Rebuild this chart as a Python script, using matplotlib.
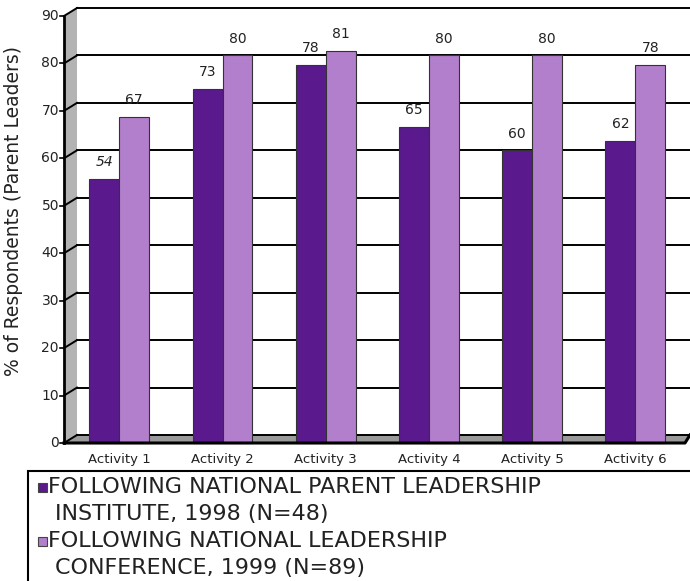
import matplotlib
matplotlib.use("Agg")
import matplotlib.pyplot as plt
from matplotlib.patches import Polygon, Rectangle
from matplotlib.lines import Line2D
from matplotlib.transforms import IdentityTransform
import numpy as np

# data
activities = ["Activity 1", "Activity 2", "Activity 3", "Activity 4", "Activity 5", "Activity 6"]
institute_1998 = [54, 73, 78, 65, 60, 62]
conference_1999 = [67, 80, 81, 80, 80, 78]
series_labels = ["FOLLOWING NATIONAL PARENT LEADERSHIP\nINSTITUTE, 1998 (N=48)",
                 "FOLLOWING NATIONAL LEADERSHIP\nCONFERENCE, 1999 (N=89)"]
series_colors = ["#5a1a8e", "#b27fcc"]
yticks = list(range(0, 91, 10))
ylabel = "% of Respondents (Parent Leaders)"

plt.rcParams['font.family'] = ['DejaVu Sans']

W, H = 690, 581
fig = plt.figure(figsize=(W / 100, H / 100), dpi=100)

# back wall in pixels (from top-left), and offset of the front plane
wl, wr, wt, wb = 77, 690, 8, 435
dx, dy = -13, -8

ax = fig.add_axes([wl / W, 1 - wb / H, (wr - wl) / W, (wb - wt) / H])
ax.set_xlim(-0.41, 5.53)
ax.set_ylim(0, 90)
for s in ax.spines.values():
    s.set_visible(False)
ax.set_yticks([])
x = np.arange(len(activities))
ax.set_xticks(x, activities)
ax.tick_params(axis='x', length=0, pad=13, labelsize=9.5, labelcolor='#222222')

for v in yticks:
    ax.axhline(v, color='black', lw=1.4, zorder=0.8, clip_on=False)

x0, x1 = ax.get_xlim()


def back(xd, yd):
    return ax.transData.transform((xd, yd))


def front(xd, yd):
    return back(xd, yd) + np.array([dx, dy])


ident = IdentityTransform()

# floor and left side wall
fr_end = front(x1, 0) + np.array([8, 0])
floor = Polygon([front(x0, 0), fr_end, back(x1, 0), back(x0, 0)], closed=True,
                transform=ident, facecolor='#9a9a9a', edgecolor='none', zorder=0.5, clip_on=False)
ax.add_patch(floor)
side = Polygon([front(x0, 0), front(x0, 90), back(x0, 90), back(x0, 0)], closed=True,
               transform=ident, facecolor='#b3b3b3', edgecolor='none', zorder=0.5, clip_on=False)
ax.add_patch(side)

for v in yticks:
    p, q = front(x0, v), back(x0, v)
    ax.add_line(Line2D([p[0], q[0]], [p[1], q[1]], color='black', lw=1.4,
                       transform=ident, clip_on=False, zorder=0.9))
    ax.add_line(Line2D([p[0] - 4, p[0]], [p[1], p[1]], color='black', lw=1.2,
                       transform=ident, clip_on=False, zorder=3))
    ax.text(p[0] - 5, p[1], str(v), transform=ident, ha='right', va='center',
            fontsize=10, color='#222222', clip_on=False)

# front axis lines
p0, p9 = front(x0, 0), front(x0, 90)
ax.add_line(Line2D([p0[0], p9[0]], [p0[1], p9[1]], color='black', lw=2,
                   transform=ident, clip_on=False, zorder=3))
b1 = back(x1, 0)
ax.add_line(Line2D([p0[0], fr_end[0], b1[0]], [p0[1], fr_end[1], b1[1]], color='black', lw=2.2,
                   transform=ident, clip_on=False, zorder=3))

# bars
bw = 0.29
depth = -dy / ((wb - wt) / 90)
for i, (vals, col) in enumerate(zip([institute_1998, conference_1999], series_colors)):
    xs = x + (i - 0.5) * bw
    ax.bar(xs, np.array(vals) + depth, bw, bottom=-depth, color=col, edgecolor='#333333',
           lw=0.8, zorder=2, clip_on=False)
    for xi, v in zip(xs, vals):
        ax.annotate(str(v), (xi, v), xytext=(0, 7), textcoords='offset points',
                    ha='center', va='bottom', fontsize=10, color='#222222',
                    fontstyle='italic' if (i == 0 and v == 54) else 'normal')

fig.text(14 / W, 1 - 211 / H, ylabel, rotation=90, ha='center', va='center',
         fontsize=13.5, color='#222222')

# legend
fig.patches.append(Rectangle((28 / W, -0.1), 1, 1 - 471 / H + 0.1, transform=fig.transFigure,
                             fill=False, edgecolor='black', lw=1.5))
for i, (lab, col) in enumerate(zip(series_labels, series_colors)):
    base = 493 + i * 54
    fig.patches.append(Rectangle((38 / W, 1 - (base - 1) / H), 9 / W, 9 / H,
                                 transform=fig.transFigure,
                                 facecolor=col, edgecolor='#444444', lw=0.8))
    for j, line in enumerate(lab.split("\n")):
        fig.text((48 + 7 * j) / W, 1 - (base + j * 27) / H, line, ha='left', va='baseline',
                 fontsize=16, color='#222222')

fig.savefig("out.png", dpi=100)
